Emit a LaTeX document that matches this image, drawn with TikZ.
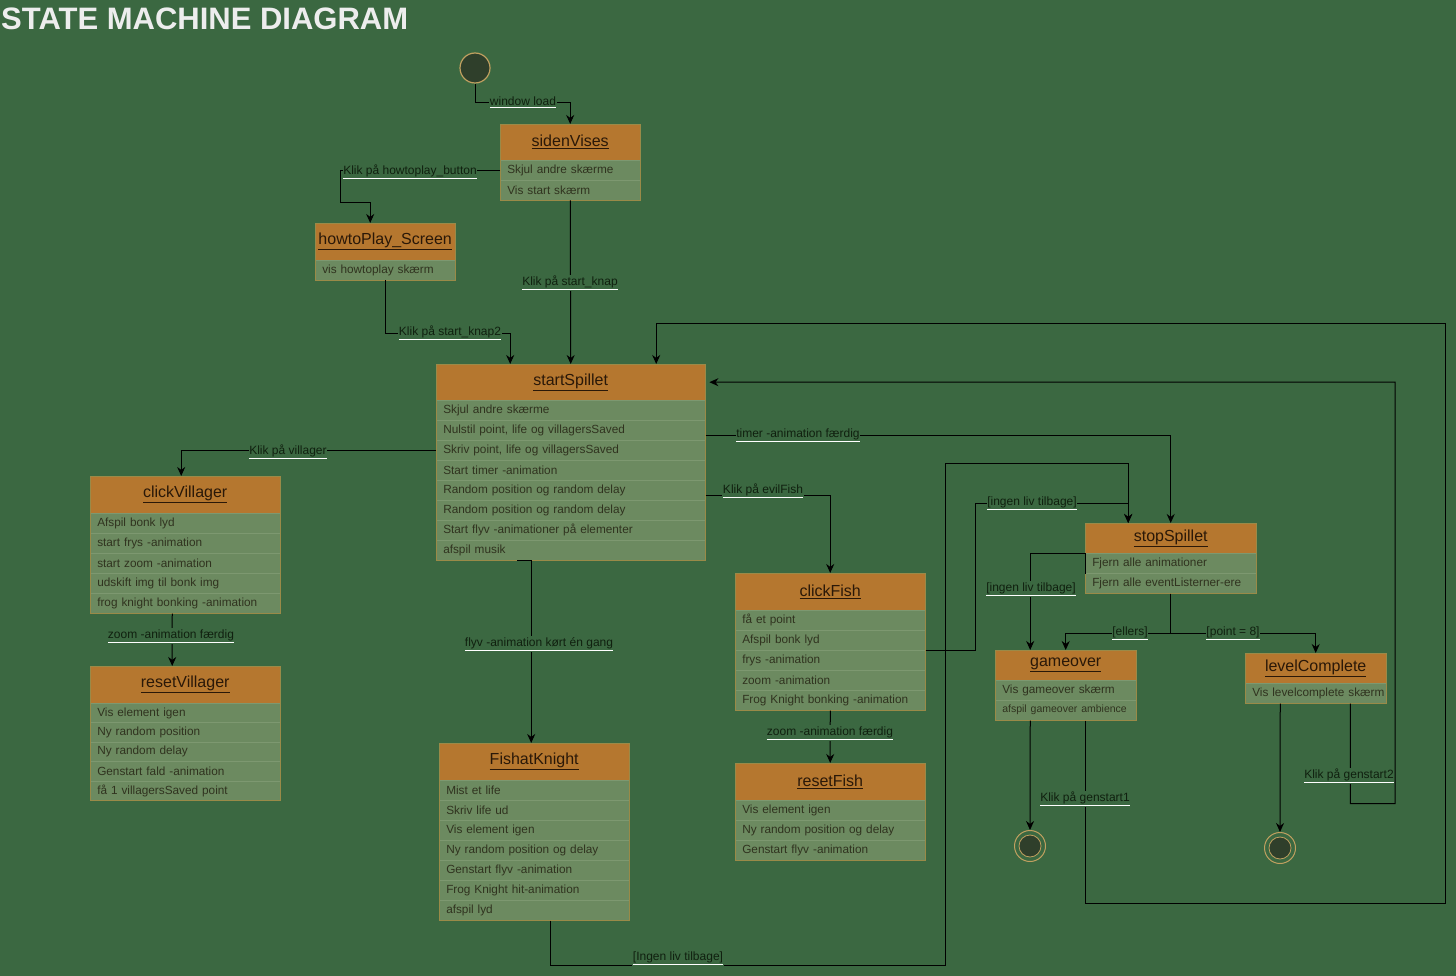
\documentclass[tikz,border=0pt]{standalone}
\usepackage{fontspec}
\setmainfont{Liberation Sans}
\usetikzlibrary{arrows.meta,calc}
\definecolor{bg}{HTML}{3B6841}
\definecolor{headc}{HTML}{B5772F}
\definecolor{rowc}{HTML}{6C8A60}
\definecolor{rowline}{HTML}{7D9870}
\definecolor{boxline}{HTML}{9A8A48}
\definecolor{rowtxt}{HTML}{30331F}
\definecolor{headtxt}{HTML}{2A1808}
\definecolor{lbltxt}{HTML}{10200F}
\definecolor{circfill}{HTML}{2F3F2B}
\definecolor{circline}{HTML}{C0A060}
\newcommand\wul[1]{\mbox{\color{white}\underline{\color{lbltxt}#1}}}
\newcommand\mkstate[8]{%
  % #1 name, #2 x, #3 ytop, #4 width, #5 header height, #6 title, #7 row height, #8 rows
  \node[headbox, minimum width=#4 pt, minimum height=#5 pt, anchor=north west] (#1) at (#2,#3) {\underline{#6}};
  \pgfmathsetmacro\mytw{#4-14}%
  \foreach \myrt [count=\myrc] in {#8} {%
    \node[rowbox, minimum width=#4 pt, minimum height=#7 pt, text width=\mytw pt, anchor=north west] (#1-\myrc) at (#2,{#3+#5+(\myrc-1)*#7}) {\mbox{\myrt}};
    \xdef\mylastrow{\myrc}%
  }%
  \draw[boxline, line width=0.7pt] (#1.north west) rectangle (#1-\mylastrow.south east);
}
\begin{document}
\begin{tikzpicture}[x=1pt,y=-1pt,
  headbox/.style={rectangle, fill=headc, draw=none, inner sep=0pt, font=\fontsize{16}{18}\selectfont, text=headtxt},
  rowbox/.style={rectangle, fill=rowc, draw=rowline, line width=0.5pt, inner xsep=7pt, inner ysep=0pt, align=left, font=\fontsize{11.8}{13}\selectfont, text=rowtxt},
  lbl/.style={fill=bg, inner xsep=0.5pt, inner ysep=1pt, font=\fontsize{12}{13}\selectfont},
  arr/.style={draw=black, line width=1pt, -{Stealth[length=9pt,width=8pt]}},
  startc/.style={circle, fill=circfill, draw=circline, line width=1.2pt, minimum size=30pt, inner sep=0pt},
  finouter/.style={circle, draw=circline, line width=1pt, minimum size=31pt, inner sep=0pt},
  fininner/.style={circle, fill=circfill, draw=circline, line width=0.8pt, minimum size=22pt, inner sep=0pt}
]
\fill[bg] (0,0) rectangle (1456,976);
\useasboundingbox (0,0) rectangle (1456,976);
\node[anchor=base west, inner sep=0pt, text=white!93!black, font=\bfseries\fontsize{31}{33}\selectfont] (title) at (1,30) {STATE MACHINE DIAGRAM};

% states
\node[startc] (init) at (475,68) {};
\mkstate{sv}{500}{124}{140}{36}{sidenVises}{20}{Skjul andre skærme,Vis start skærm}
\mkstate{hp}{315}{223}{140}{37}{howtoPlay\_Screen}{20}{vis howtoplay skærm}
\mkstate{ss}{436}{364}{269}{36}{startSpillet}{20}{Skjul andre skærme,{Nulstil point, life og villagersSaved},{Skriv point, life og villagersSaved},Start timer -animation,Random position og random delay,Random position og random delay,Start flyv -animationer på elementer,afspil musik}
\mkstate{cv}{90}{476}{190}{37}{clickVillager}{20}{Afspil bonk lyd,start frys -animation,start zoom -animation,udskift img til bonk img,frog knight bonking -animation}
\mkstate{rv}{90}{666}{190}{37}{resetVillager}{19.4}{Vis element igen,Ny random position,Ny random delay,Genstart fald -animation,få 1 villagersSaved point}
\mkstate{fk}{439}{743}{190}{37}{FishatKnight}{20}{Mist et life,Skriv life ud,Vis element igen,Ny random position og delay,Genstart flyv -animation,Frog Knight hit-animation,afspil lyd}
\mkstate{cf}{735}{573}{190}{37}{clickFish}{20}{få et point,Afspil bonk lyd,frys -animation,zoom -animation,Frog Knight bonking -animation}
\mkstate{rf}{735}{763}{190}{37}{resetFish}{20}{Vis element igen,Ny random position og delay,Genstart flyv -animation}
\mkstate{sp}{1085}{523}{171}{30}{stopSpillet}{20}{Fjern alle animationer,Fjern alle eventListerner-ere}
\mkstate{go}{995}{650}{141}{30}{gameover}{20}{Vis gameover skærm,{\fontsize{10.5}{12}\selectfont afspil gameover ambience}}
\mkstate{lc}{1245}{653}{141}{30}{levelComplete}{20}{Vis levelcomplete skærm}
\node[finouter] (fin1) at (1030,846) {};
\node[fininner] (fin1i) at (fin1.center) {};
\node[finouter] (fin2) at (1280,848) {};
\node[fininner] (fin2i) at (fin2.center) {};

% connectors
\draw[arr] (init.south) -- ++(0,19) -| (sv.north);
\draw[arr] (sv-1.west) -| (340,203) -| ([xshift=-15pt]hp.north);
\draw[arr] (sv-2.south) -- (ss.north);
\draw[arr] (hp-1.south) -- ++(0,53) -| ([xshift=-60.5pt]ss.north);
\draw[arr] (ss-3.west) -| ([xshift=-4pt]cv.north);
\draw[arr] ([yshift=-5pt]ss-2.east) -| (sp.north);
\draw[arr] ([yshift=-5pt]ss-5.east) -| (cf.north);
\draw[arr] ([xshift=-53.5pt]ss-8.south) -| ([xshift=-3pt]fk.north);
\draw[arr] ([xshift=16pt]fk-7.south) -- ++(0,45) -| (945,463) -| ([xshift=-42.5pt]sp.north);
\draw[arr] (cf-2.south east) -| (975,503) -| ([xshift=-42.5pt]sp.north);
\draw[arr] ([xshift=-13pt]cv-5.south) -- ([xshift=-13pt]rv.north);
\draw[arr] (cf-5.south) -- (rf.north);
\draw[arr] (sp-1.south west) -- (sp-1.north west) -| ([xshift=-35.5pt]go.north);
\draw[arr] (sp-2.south) -- ++(0,40) -| (go.north);
\draw[arr] (sp-2.south) -- ++(0,40) -| (lc.north);
\draw[arr] ([xshift=-35.5pt]go-2.south) -- (fin1.north);
\draw[arr] ([xshift=-35.5pt]lc-1.south) -- (fin2.north);
\draw[arr] ([xshift=19.5pt]go-2.south) -- ++(0,183) -| (1445,323) -| ([xshift=85.5pt]ss.north);
\draw[arr] ([xshift=34.5pt]lc-1.south) -- ++(0,100) -| (1395,382) -- ([xshift=4pt]ss.east);

% labels
\node[lbl] (l1) at (523,102) {\wul{window load}};
\node[lbl] (l2) at (410,172) {\wul{Klik på howtoplay\_button}};
\node[lbl] (l3) at (570,283) {\wul{Klik på start\_knap}};
\node[lbl] (l4) at (450,333) {\wul{Klik på start\_knap2}};
\node[lbl] (l5) at (288,452) {\wul{Klik på villager}};
\node[lbl] (l6) at (798,435) {\wul{timer -animation færdig}};
\node[lbl] (l7) at (763,491) {\wul{Klik på evilFish}};
\node[lbl] (l8) at (539,644) {\wul{flyv -animation kørt én gang}};
\node[lbl] (l9) at (678,958) {\wul{[Ingen liv tilbage]}};
\node[lbl] (l10) at (1032,503) {\wul{[ingen liv tilbage]}};
\node[lbl] (l11) at (1031,589) {\wul{[ingen liv tilbage]}};
\node[lbl] (l12) at (1130,633) {\wul{[ellers]}};
\node[lbl] (l13) at (1233,633) {\wul{[point = 8]}};
\node[lbl] (l14) at (171,636) {\wul{zoom -animation færdig}};
\node[lbl] (l15) at (830,733) {\wul{zoom -animation færdig}};
\node[lbl] (l16) at (1085,799) {\wul{Klik på genstart1}};
\node[lbl] (l17) at (1349,776) {\wul{Klik på genstart2}};
\end{tikzpicture}
\end{document}
